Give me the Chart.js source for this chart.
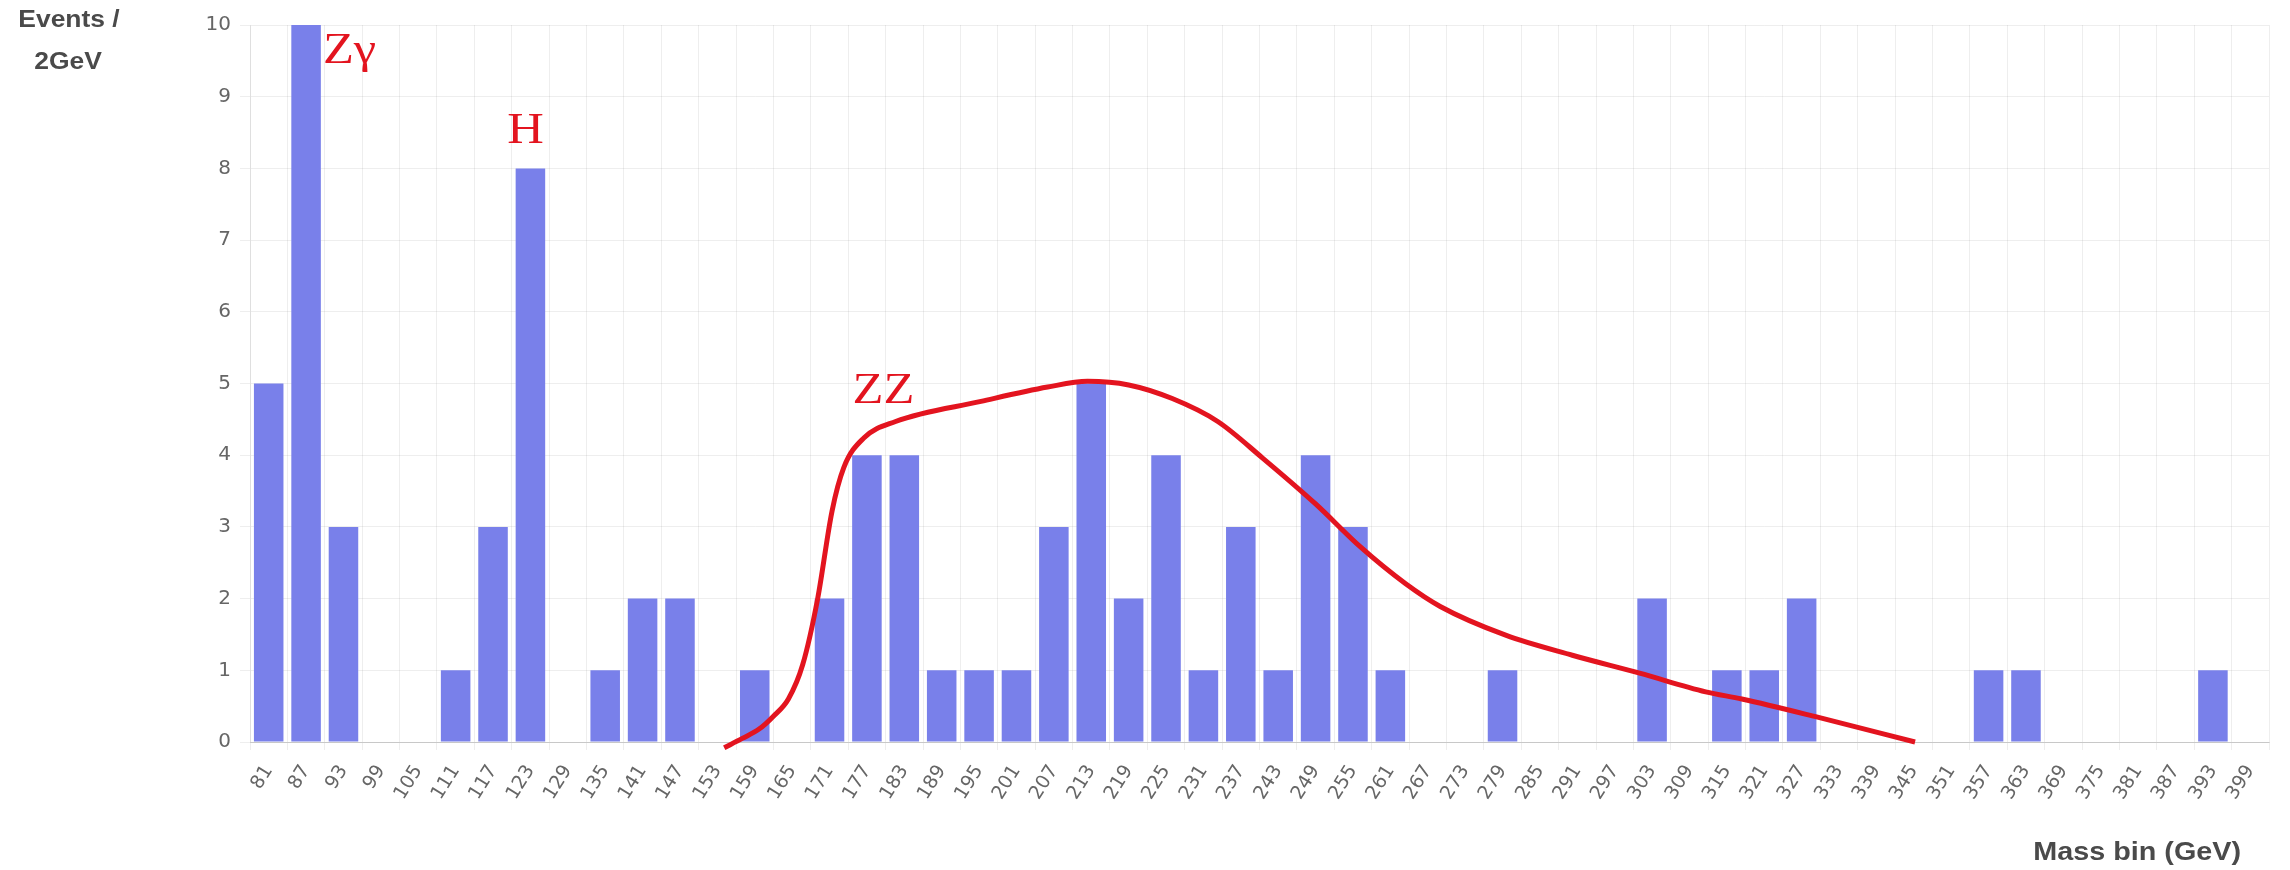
<!DOCTYPE html>
<html>
<head>
<meta charset="utf-8">
<style>
  html, body { margin: 0; padding: 0; background: #ffffff; }
  #wrap { width: 2290px; height: 870px; position: relative; }
  canvas { display: block; }
</style>
<script src="https://cdn.jsdelivr.net/npm/chart.js@4/dist/chart.umd.min.js"></script>
</head>
<body>
<div id="wrap"><canvas id="massChart" width="2290" height="870"></canvas></div>
<script>
// Mass bins (GeV) used as category labels
const massBins = [
  81, 87, 93, 99, 105, 111, 117, 123, 129,
  135, 141, 147, 153, 159, 165, 171, 177, 183,
  189, 195, 201, 207, 213, 219, 225, 231, 237,
  243, 249, 255, 261, 267, 273, 279, 285, 291,
  297, 303, 309, 315, 321, 327, 333, 339, 345,
  351, 357, 363, 369, 375, 381, 387, 393, 399
];

// Events counted in each bin
const eventCounts = [
  5, 10, 3, 0, 0, 1, 3, 8, 0,
  1, 2, 2, 0, 1, 0, 2, 4, 4,
  1, 1, 1, 3, 5, 2, 4, 1, 3,
  1, 4, 3, 1, 0, 0, 1, 0, 0,
  0, 2, 0, 1, 1, 2, 0, 0, 0,
  0, 1, 1, 0, 0, 0, 0, 1, 0
];

// Y axis ticks
const yTicks = [0, 1, 2, 3, 4, 5, 6, 7, 8, 9, 10];

// Hand-drawn ZZ background shape: mass (GeV) and event level
const zzMass  = [154.1, 157.0, 159.7, 162.0, 164.4, 166.7, 169.1, 171.4, 173.3, 176.5,
                 181.6, 195.3, 206.0, 212.4, 219.0, 226.0, 233.3, 240.5, 249.0, 256.2,
                 263.4, 269.0, 279.5, 290.2, 301.0, 311.6, 317.4, 329.4, 345.2];
const zzLevel = [-0.08, 0.05, 0.18, 0.36, 0.60, 1.08, 2.00, 3.22, 3.83, 4.24,
                 4.47, 4.75, 4.95, 5.03, 4.98, 4.79, 4.47, 3.96, 3.32, 2.72,
                 2.21, 1.89, 1.49, 1.21, 0.96, 0.70, 0.60, 0.35, 0.00];

// Peak labels
const peakNames = ['Zγ', 'H', 'ZZ'];
const peakMass  = [89.7, 119.3, 174.7];
const peakLevel = [9.47, 8.35, 4.73];

const BAR_COLOR = '#7980ea';
const CURVE_COLOR = '#e3141f';
const TEXT_STRETCH = 1.15;

// Draws text widened horizontally around its anchor point
function wideText(ctx, text, x, y, align) {
  ctx.save();
  ctx.translate(x, y);
  ctx.scale(TEXT_STRETCH, 1);
  ctx.textAlign = align;
  ctx.fillText(text, 0, 0);
  ctx.restore();
}

const annotations = {
  id: 'peakAnnotations',
  afterDatasetsDraw(chart) {
    const ctx = chart.ctx;
    const xs = chart.scales.x2, ys = chart.scales.y;
    ctx.save();
    ctx.fillStyle = CURVE_COLOR;
    ctx.font = '44px "Liberation Serif", "DejaVu Serif", serif';
    ctx.textBaseline = 'alphabetic';
    peakNames.forEach((name, i) => {
      wideText(ctx, name, xs.getPixelForValue(peakMass[i]), ys.getPixelForValue(peakLevel[i]), 'left');
    });
    ctx.restore();
  },
  afterDraw(chart) {
    const ctx = chart.ctx;
    ctx.save();
    ctx.fillStyle = '#4a4a4a';
    ctx.textBaseline = 'middle';
    // y axis title, horizontal, in the top-left corner
    ctx.font = 'bold 23px "Liberation Sans", Arial, sans-serif';
    wideText(ctx, 'Events /', 69, 21, 'center');
    wideText(ctx, '2GeV', 68, 63, 'center');
    // x axis title, bottom right
    ctx.font = 'bold 25px "Liberation Sans", Arial, sans-serif';
    wideText(ctx, 'Mass bin (GeV)', 2241, 853, 'right');
    ctx.restore();
  }
};

new Chart(document.getElementById('massChart'), {
  type: 'bar',
  data: {
    labels: massBins,
    datasets: [
      {
        type: 'line',
        label: 'ZZ',
        xAxisID: 'x2',
        stack: 'all',
        data: zzMass.map((m, i) => ({ x: m, y: zzLevel[i] })),
        borderColor: CURVE_COLOR,
        borderWidth: 5,
        pointRadius: 0,
        fill: false,
        cubicInterpolationMode: 'monotone',
        clip: false,
        order: 0
      },
      {
        label: 'Events',
        stack: 'all',
        grouped: false,
        data: eventCounts,
        backgroundColor: BAR_COLOR,
        borderWidth: 0,
        categoryPercentage: 1.0,
        barPercentage: 0.79,
        order: 1
      }
    ]
  },
  options: {
    responsive: false,
    animation: false,
    layout: { padding: { left: 0, top: 25, right: 21, bottom: 0 } },
    plugins: {
      legend: { display: false },
      tooltip: { enabled: false }
    },
    scales: {
      x: {
        type: 'category',
        offset: true,
        grid: {
          offset: true,
          color: 'rgba(0,0,0,0.065)',
          tickLength: 8
        },
        border: { color: 'rgba(0,0,0,0.16)' },
        ticks: {
          autoSkip: false,
          minRotation: 58,
          maxRotation: 58,
          padding: 11,
          color: '#666',
          font: { family: '"DejaVu Sans", sans-serif', size: 19 }
        },
        afterFit(scale) { scale.height = 128; }
      },
      x2: {
        type: 'linear',
        display: false,
        offset: false,
        grid: { offset: false },
        min: 78,
        max: 402
      },
      y: {
        min: 0,
        max: 10,
        afterBuildTicks(scale) { scale.ticks = yTicks.map(v => ({ value: v })); },
        grid: { color: 'rgba(0,0,0,0.065)', tickLength: 10 },
        border: { color: 'rgba(0,0,0,0.065)' },
        ticks: {
          padding: 9,
          color: '#666',
          font: { family: '"DejaVu Sans", sans-serif', size: 20 }
        },
        afterFit(scale) { scale.width = 250; }
      }
    }
  },
  plugins: [annotations]
});
</script>
</body>
</html>
